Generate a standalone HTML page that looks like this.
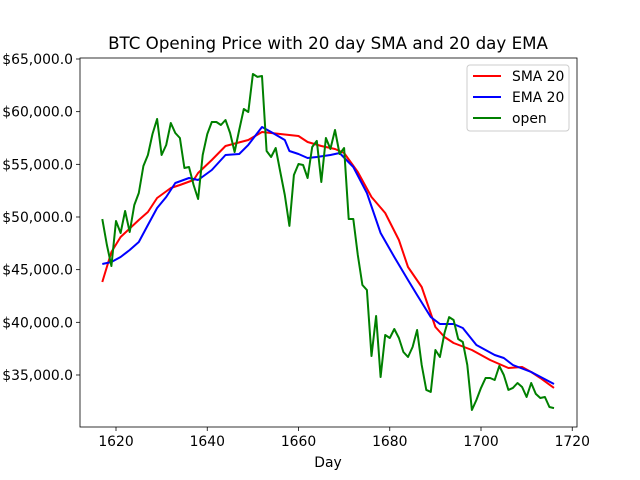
<!DOCTYPE html>
<html><head><meta charset="utf-8"><style>
body{margin:0;background:#fff}
svg{display:block;font-family:"DejaVu Sans","Liberation Sans",sans-serif}
</style></head><body>
<svg id="chart" width="640" height="480">
<rect width="640" height="480" fill="#fff"/>
<text x="328" y="49" text-anchor="middle" font-size="16.7">BTC Opening Price with 20 day SMA and 20 day EMA</text>
<g id="plot"></g>
<text x="328" y="467" text-anchor="middle" font-size="13.9">Day</text>
<g>
<rect x="467" y="65" width="102" height="66" rx="3" fill="#fff" stroke="#ccc" stroke-width="1"/>
<g><line x1="473" y1="76" x2="501" y2="76" stroke="red" stroke-width="2"/><text x="512" y="81" font-size="13.9">SMA 20</text></g>
<g><line x1="473" y1="97" x2="501" y2="97" stroke="blue" stroke-width="2"/><text x="512" y="102" font-size="13.9">EMA 20</text></g>
<g><line x1="473" y1="118" x2="501" y2="118" stroke="green" stroke-width="2"/><text x="512" y="123" font-size="13.9">open</text></g>
</g>
</svg>
<script>
const openStart = 1617;
const openValues = [49800,47340,45350,49620,48480,50570,48575,51140,52280,54840,55890,57880,59300,55890,56835,58920,57970,57500,54650,54750,53040,51710,55890,57880,59020,59020,58730,59210,57970,56170,58260,60250,59970,63580,63300,63390,56270,55700,56550,54270,52090,49150,53990,55030,54940,53700,56650,57220,53320,57500,56460,58260,55980,56550,49810,49810,46390,43540,43070,36800,40600,34810,38800,38510,39370,38510,37180,36710,37660,39270,35950,33580,33390,37370,36710,38990,40500,40220,38420,38130,35950,31680,32630,33770,34710,34710,34520,35850,35000,33580,33770,34240,33860,32910,34240,33200,32820,32910,31960,31860];
const smaDays = [1617,1619,1621,1625,1627,1629,1632,1634,1637,1638,1641,1644,1649,1652,1654,1660,1662,1665,1668,1670,1673,1676,1679,1682,1684,1687,1690,1692,1694,1698,1702,1706,1709,1711,1713,1716];
const smaValues = [43830,46680,48100,49710,50470,51800,52750,53040,53510,54180,55410,56740,57310,58070,57970,57690,57120,56740,56460,56080,54270,51900,50380,47820,45250,43350,39560,38610,38040,37370,36420,35660,35760,35280,34710,33770];
const emaDays = [1617,1619,1621,1623,1625,1627,1629,1631,1633,1636,1638,1641,1644,1647,1649,1652,1654,1657,1658,1660,1662,1664,1667,1669,1672,1675,1678,1681,1684,1686,1689,1691,1694,1696,1699,1703,1705,1707,1711,1716];
const emaValues = [45540,45730,46200,46870,47630,49240,50850,51900,53230,53700,53510,54460,55890,55980,56840,58540,58070,57310,56270,55980,55600,55700,55890,56080,54750,52280,48480,46200,44020,42590,40500,39840,39840,39460,37850,36900,36610,35950,35280,34140];
const xTicks = [1620,1640,1660,1680,1700,1720];
const yTicks = [35000,40000,45000,50000,55000,60000,65000];

const L=80,R=577,T=58,B=427;
const xs = d => 116 + (d-1620)*4.5625;
const ys = v => 59 + (65000-v)*0.010533;
const NS="http://www.w3.org/2000/svg";
const plot=document.getElementById('plot');
function mk(tag,attrs,parent){const e=document.createElementNS(NS,tag);for(const k in attrs)e.setAttribute(k,attrs[k]);(parent||plot).appendChild(e);return e;}
function fmt(v){return '$'+v.toLocaleString('en-US')+'.0';}

const xg=mk('g',{});


xTicks.forEach(t=>{const x=xs(t);mk('line',{x1:x,y1:B,x2:x,y2:B+4,stroke:'#000','stroke-width':0.8},xg);
 const tx=mk('text',{x:x,y:B+19,'text-anchor':'middle','font-size':13.9},xg);tx.textContent=t;
 
 });
const yg=mk('g',{});


yTicks.forEach(t=>{const y=ys(t);mk('line',{x1:L-4,y1:y,x2:L,y2:y,stroke:'#000','stroke-width':0.8},yg);
 const tx=mk('text',{x:L-7,y:y+5,'text-anchor':'end','font-size':13.9},yg);tx.textContent=fmt(t);
 
 });

function line(days,vals,color,name){
 const pts=days.map((d,i)=>xs(d).toFixed(1)+','+ys(vals[i]).toFixed(1)).join(' ');
 const p=mk('polyline',{points:pts,fill:'none',stroke:color,'stroke-width':2,'stroke-linejoin':'round'});
 
 
}
line(smaDays,smaValues,'red','sma-line');
line(emaDays,emaValues,'blue','ema-line');
line(openValues.map((_,i)=>openStart+i),openValues,'green','open-line');
const frame=mk('rect',{x:L,y:T,width:R-L,height:B-T,fill:'none',stroke:'#000','stroke-width':0.8});


</script>
</body></html>
